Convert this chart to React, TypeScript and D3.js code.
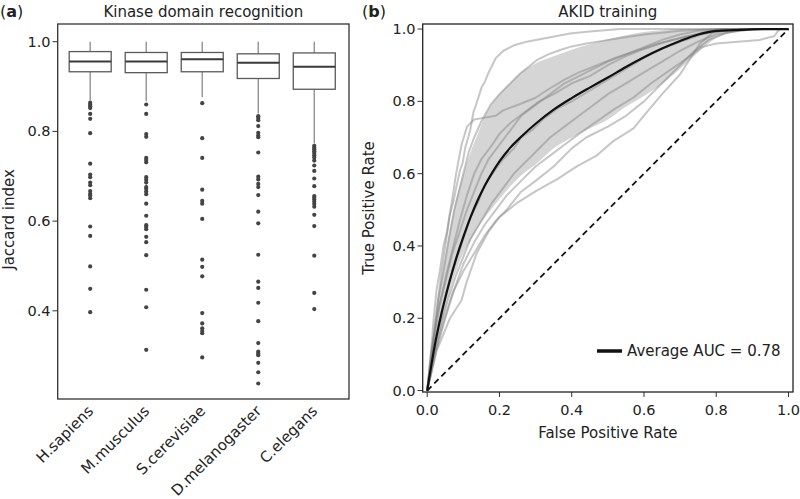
import React from "react";
import * as d3 from "d3";

// ---------- Panel (a): boxplot data ----------
const species = ["H.sapiens", "M.musculus", "S.cerevisiae", "D.melanogaster", "C.elegans"];
const q1 = [0.933, 0.931, 0.933, 0.918, 0.894];
const median = [0.956, 0.956, 0.961, 0.953, 0.944];
const q3 = [0.978, 0.976, 0.976, 0.973, 0.975];
const whiskerLow = [0.869, 0.867, 0.876, 0.840, 0.773];
const whiskerHigh = [1.0, 1.0, 1.0, 1.0, 1.0];
const outHsap = [0.864, 0.860, 0.856, 0.852, 0.839, 0.828, 0.796, 0.728, 0.704, 0.698, 0.686, 0.680, 0.667, 0.661, 0.657, 0.651, 0.588, 0.567, 0.499, 0.449, 0.397];
const outMmus = [0.860, 0.839, 0.794, 0.788, 0.741, 0.736, 0.731, 0.698, 0.692, 0.686, 0.676, 0.672, 0.666, 0.660, 0.639, 0.612, 0.591, 0.587, 0.582, 0.565, 0.553, 0.524, 0.447, 0.408, 0.313];
const outScer = [0.863, 0.785, 0.741, 0.670, 0.645, 0.639, 0.605, 0.514, 0.498, 0.477, 0.395, 0.372, 0.361, 0.355, 0.350, 0.296];
const outDmel = [0.834, 0.830, 0.825, 0.812, 0.797, 0.791, 0.787, 0.753, 0.699, 0.693, 0.683, 0.676, 0.658, 0.621, 0.595, 0.525, 0.465, 0.451, 0.418, 0.377, 0.328, 0.309, 0.305, 0.301, 0.284, 0.263, 0.238];
const outCele = [0.768, 0.764, 0.760, 0.756, 0.752, 0.747, 0.742, 0.735, 0.724, 0.712, 0.695, 0.678, 0.656, 0.652, 0.648, 0.643, 0.638, 0.632, 0.614, 0.589, 0.523, 0.440, 0.404];
const outliers = [outHsap, outMmus, outScer, outDmel, outCele];
const jaccardTicks = [0.4, 0.6, 0.8, 1.0];

// ---------- Panel (b): ROC data ----------
const rocTicks = [0, 0.2, 0.4, 0.6, 0.8, 1.0];
const gridFpr = [0, 0.02, 0.04, 0.06, 0.08, 0.1, 0.12, 0.14, 0.16, 0.18, 0.2, 0.23, 0.26, 0.3, 0.35, 0.4, 0.45, 0.5, 0.55, 0.6, 0.65, 0.7, 0.75, 0.8, 0.85, 0.9, 0.95, 1.0];
const meanTpr = [0, 0.12, 0.215, 0.295, 0.365, 0.425, 0.48, 0.527, 0.568, 0.603, 0.634, 0.672, 0.702, 0.738, 0.777, 0.809, 0.838, 0.866, 0.895, 0.922, 0.946, 0.967, 0.985, 0.995, 0.997, 0.999, 1.0, 1.0];
const upperTpr = [0, 0.17, 0.31, 0.43, 0.53, 0.6, 0.66, 0.71, 0.76, 0.795, 0.82, 0.85, 0.88, 0.905, 0.925, 0.943, 0.958, 0.972, 0.983, 0.992, 0.997, 1, 1, 1, 1, 1, 1, 1];
const lowerTpr = [0, 0.1, 0.18, 0.265, 0.33, 0.38, 0.415, 0.45, 0.48, 0.505, 0.53, 0.565, 0.595, 0.625, 0.67, 0.7, 0.725, 0.75, 0.785, 0.815, 0.848, 0.89, 0.935, 0.975, 0.992, 0.998, 1, 1];

const rocA = [[0, 0], [0.01, 0.1], [0.018, 0.2], [0.026, 0.28], [0.035, 0.33], [0.045, 0.4], [0.055, 0.44], [0.063, 0.49], [0.072, 0.52], [0.08, 0.56], [0.091, 0.61], [0.098, 0.63], [0.105, 0.67], [0.119, 0.72], [0.128, 0.77], [0.135, 0.79], [0.151, 0.84], [0.16, 0.855], [0.17, 0.88], [0.19, 0.92], [0.211, 0.94], [0.24, 0.955], [0.275, 0.965], [0.33, 0.975], [0.395, 0.988], [0.45, 0.993], [0.534, 1.0], [1, 1]];
const rocB = [[0, 0], [0.015, 0.12], [0.03, 0.25], [0.045, 0.33], [0.06, 0.42], [0.075, 0.5], [0.09, 0.56], [0.1, 0.6], [0.115, 0.66], [0.13, 0.7], [0.15, 0.745], [0.175, 0.79], [0.2, 0.82], [0.23, 0.85], [0.257, 0.877], [0.28, 0.895], [0.303, 0.914], [0.335, 0.93], [0.368, 0.942], [0.4, 0.952], [0.441, 0.96], [0.49, 0.968], [0.534, 0.975], [0.6, 0.985], [0.65, 0.99], [0.7, 0.995], [0.8, 1], [1, 1]];
const rocC = [[0, 0], [0.02, 0.17], [0.04, 0.33], [0.06, 0.47], [0.08, 0.6], [0.095, 0.68], [0.11, 0.73], [0.13, 0.75], [0.16, 0.755], [0.19, 0.76], [0.21, 0.775], [0.25, 0.79], [0.3, 0.81], [0.33, 0.83], [0.38, 0.86], [0.42, 0.88], [0.47, 0.9], [0.52, 0.92], [0.58, 0.94], [0.64, 0.96], [0.7, 0.975], [0.76, 0.99], [0.82, 1], [1, 1]];
const rocD = [[0, 0], [0.02, 0.13], [0.04, 0.22], [0.06, 0.3], [0.08, 0.36], [0.1, 0.42], [0.12, 0.48], [0.14, 0.52], [0.16, 0.57], [0.18, 0.6], [0.21, 0.64], [0.24, 0.67], [0.26, 0.7], [0.29, 0.72], [0.32, 0.75], [0.36, 0.78], [0.4, 0.8], [0.45, 0.83], [0.5, 0.86], [0.55, 0.89], [0.6, 0.92], [0.65, 0.945], [0.7, 0.965], [0.76, 0.985], [0.8, 0.995], [0.9, 1], [1, 1]];
const rocE = [[0, 0], [0.015, 0.12], [0.035, 0.24], [0.055, 0.33], [0.075, 0.41], [0.09, 0.47], [0.11, 0.54], [0.13, 0.6], [0.15, 0.64], [0.18, 0.68], [0.2, 0.71], [0.23, 0.74], [0.27, 0.77], [0.31, 0.8], [0.35, 0.82], [0.4, 0.85], [0.45, 0.87], [0.5, 0.9], [0.55, 0.925], [0.6, 0.945], [0.66, 0.965], [0.72, 0.98], [0.78, 0.99], [0.86, 1], [1, 1]];
const rocF = [[0, 0], [0.02, 0.1], [0.04, 0.19], [0.06, 0.26], [0.08, 0.32], [0.1, 0.37], [0.12, 0.42], [0.15, 0.47], [0.18, 0.52], [0.21, 0.56], [0.24, 0.6], [0.27, 0.63], [0.3, 0.66], [0.34, 0.7], [0.38, 0.73], [0.42, 0.76], [0.46, 0.79], [0.5, 0.82], [0.55, 0.85], [0.6, 0.88], [0.65, 0.91], [0.7, 0.94], [0.75, 0.965], [0.8, 0.985], [0.86, 0.995], [0.92, 1], [1, 1]];
const rocG = [[0, 0], [0.025, 0.11], [0.05, 0.2], [0.075, 0.28], [0.1, 0.35], [0.13, 0.41], [0.16, 0.46], [0.19, 0.5], [0.22, 0.54], [0.26, 0.58], [0.3, 0.62], [0.34, 0.65], [0.38, 0.68], [0.42, 0.71], [0.47, 0.745], [0.52, 0.78], [0.57, 0.81], [0.62, 0.85], [0.67, 0.885], [0.72, 0.92], [0.76, 0.95], [0.8, 0.96], [0.86, 0.965], [0.92, 0.97], [0.96, 0.98], [0.975, 1], [1, 1]];
const rocH = [[0, 0], [0.01, 0.1], [0.03, 0.22], [0.05, 0.3], [0.07, 0.38], [0.09, 0.44], [0.11, 0.5], [0.13, 0.55], [0.15, 0.6], [0.17, 0.64], [0.2, 0.68], [0.23, 0.72], [0.26, 0.76], [0.3, 0.79], [0.34, 0.82], [0.38, 0.85], [0.42, 0.87], [0.46, 0.89], [0.5, 0.91], [0.55, 0.93], [0.6, 0.95], [0.65, 0.97], [0.7, 0.985], [0.75, 0.995], [0.82, 1], [1, 1]];
const rocY = [[0, 0], [0.02, 0.1], [0.045, 0.19], [0.07, 0.27], [0.1, 0.33], [0.13, 0.38], [0.16, 0.43], [0.19, 0.47], [0.22, 0.5], [0.26, 0.55], [0.3, 0.58], [0.35, 0.62], [0.4, 0.67], [0.44, 0.7], [0.5, 0.73], [0.55, 0.76], [0.6, 0.8], [0.65, 0.85], [0.7, 0.9], [0.74, 0.94], [0.78, 0.97], [0.83, 0.99], [0.9, 1], [1, 1]];
const rocZ = [[0, 0], [0.026, 0.11], [0.063, 0.2], [0.095, 0.25], [0.109, 0.3], [0.137, 0.38], [0.17, 0.44], [0.2, 0.48], [0.25, 0.52], [0.303, 0.553], [0.36, 0.585], [0.414, 0.62], [0.469, 0.65], [0.515, 0.69], [0.571, 0.725], [0.608, 0.77], [0.65, 0.82], [0.7, 0.875], [0.755, 0.96], [0.79, 0.99], [0.85, 1.0], [1, 1]];
const rocCurves = [rocA, rocB, rocC, rocD, rocE, rocF, rocG, rocH, rocY, rocZ];
const legendLabel = "Average AUC = 0.78";

const FONT = "DejaVu Sans, sans-serif";

export default function App() {
  // panel (a) scales
  const xL = d3.scaleLinear().domain([-0.58, 4.62]).range([57.7, 349]);
  const yL = d3.scaleLinear().domain([0.2034, 1.0395]).range([399, 24]);
  const boxW = 42;

  // panel (b) scales
  const xR = d3.scaleLinear().domain([-0.0125, 1.0125]).range([422.7, 793]);
  const yR = d3.scaleLinear().domain([-0.004, 1.014]).range([392, 24]);

  const band = d3
    .area<number>()
    .x((_, i) => xR(gridFpr[i]))
    .y0((_, i) => yR(lowerTpr[i]))
    .y1((_, i) => yR(upperTpr[i]))
    .curve(d3.curveMonotoneX);
  const meanLine = d3
    .line<number>()
    .x((_, i) => xR(gridFpr[i]))
    .y((d) => yR(d))
    .curve(d3.curveMonotoneX);
  const rocLine = d3
    .line<number[]>()
    .x((d) => xR(d[0]))
    .y((d) => yR(d[1]));
  const fmt = d3.format(".1f");

  return (
    <svg
      width={800}
      height={499}
      style={{ position: "absolute", left: 0, top: 0, background: "#fff" }}
      fontFamily={FONT}
    >
      <rect x={0} y={0} width={800} height={499} fill="#fff" />
      {/* ---------- Panel (a) ---------- */}
      <text x={0} y={17} fontSize={16} fill="#222">
        (<tspan fontWeight="bold">a</tspan>)
      </text>
      <text x={(57.7 + 349) / 2} y={17} fontSize={15} textAnchor="middle" fill="#222">
        Kinase domain recognition
      </text>
      {species.map((s, i) => {
        const cx = xL(i);
        return (
          <g key={s}>
            <line x1={cx} x2={cx} y1={yL(q3[i])} y2={yL(whiskerHigh[i])} stroke="#8a8a8a" strokeWidth={1.3} />
            <line x1={cx} x2={cx} y1={yL(q1[i])} y2={yL(whiskerLow[i])} stroke="#8a8a8a" strokeWidth={1.3} />
            <rect
              x={cx - boxW / 2}
              y={yL(q3[i])}
              width={boxW}
              height={yL(q1[i]) - yL(q3[i])}
              fill="#fff"
              stroke="#5a5a5a"
              strokeWidth={1.3}
            />
            <line x1={cx - boxW / 2} x2={cx + boxW / 2} y1={yL(median[i])} y2={yL(median[i])} stroke="#3a3a3a" strokeWidth={2} />
            {outliers[i].map((v, j) => (
              <circle key={j} cx={cx} cy={yL(v)} r={2.1} fill="#444" />
            ))}
            <text
              transform={`translate(${cx + 4},${412}) rotate(-45)`}
              textAnchor="end"
              fontSize={15}
              fill="#222"
            >
              {s}
            </text>
          </g>
        );
      })}
      {jaccardTicks.map((t) => (
        <g key={t}>
          <line x1={52.5} x2={57.7} y1={yL(t)} y2={yL(t)} stroke="#333" strokeWidth={1} />
          <text x={50.5} y={yL(t) + 5} fontSize={14.5} textAnchor="end" fill="#222">
            {fmt(t)}
          </text>
        </g>
      ))}
      <rect x={57.7} y={24} width={349 - 57.7} height={399 - 24} fill="none" stroke="#333" strokeWidth={1.3} />
      <text transform={`translate(14,${(24 + 399) / 2 + 8}) rotate(-90)`} textAnchor="middle" fontSize={15} fill="#222">
        Jaccard index
      </text>

      {/* ---------- Panel (b) ---------- */}
      <text x={362} y={17} fontSize={16} fill="#222">
        (<tspan fontWeight="bold">b</tspan>)
      </text>
      <text x={(422.7 + 793) / 2} y={17} fontSize={15} textAnchor="middle" fill="#222">
        AKID training
      </text>
      <path d={band(gridFpr) || ""} fill="#808080" fillOpacity={0.33} stroke="none" />
      {rocCurves.map((c, i) => (
        <path key={i} d={rocLine(c) || ""} fill="none" stroke="#808080" strokeOpacity={0.45} strokeWidth={2} strokeLinejoin="round" />
      ))}
      <line x1={xR(0)} y1={yR(0)} x2={xR(1)} y2={yR(1)} stroke="#111" strokeWidth={1.8} strokeDasharray="6 4" />
      <path d={meanLine(meanTpr) || ""} fill="none" stroke="#111" strokeWidth={2.2} />
      {rocTicks.map((t) => (
        <g key={"y" + t}>
          <line x1={417.5} x2={422.7} y1={yR(t)} y2={yR(t)} stroke="#333" strokeWidth={1} />
          <text x={415.5} y={yR(t) + 5} fontSize={14.5} textAnchor="end" fill="#222">
            {fmt(t)}
          </text>
        </g>
      ))}
      {rocTicks.map((t) => (
        <g key={"x" + t}>
          <line x1={xR(t)} x2={xR(t)} y1={392} y2={397} stroke="#333" strokeWidth={1} />
          <text x={xR(t)} y={414.5} fontSize={14.5} textAnchor="middle" fill="#222">
            {fmt(t)}
          </text>
        </g>
      ))}
      <rect x={422.7} y={24} width={793 - 422.7} height={392 - 24} fill="none" stroke="#222" strokeWidth={1.3} />
      <text x={(422.7 + 793) / 2} y={437.5} fontSize={15} textAnchor="middle" fill="#222">
        False Positive Rate
      </text>
      <text transform={`translate(374,${(24 + 392) / 2}) rotate(-90)`} textAnchor="middle" fontSize={15} fill="#222">
        True Positive Rate
      </text>
      <line x1={597} x2={622} y1={351} y2={351} stroke="#111" strokeWidth={3.5} />
      <text x={627} y={356} fontSize={15} fill="#222">
        {legendLabel}
      </text>
    </svg>
  );
}
